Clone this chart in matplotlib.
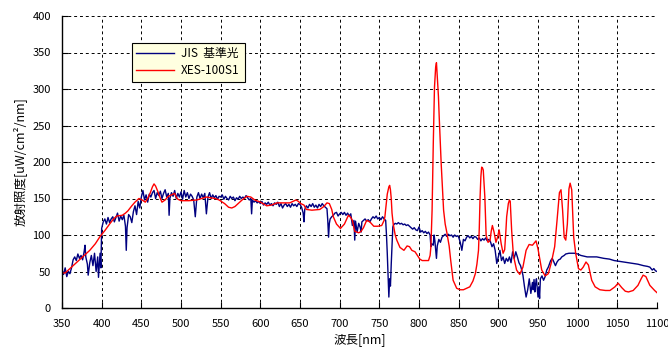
import matplotlib
matplotlib.use("Agg")
import matplotlib.pyplot as plt

# JIS reference spectrum (wavelength nm, irradiance)
jis_wl = [350, 352, 354, 356, 358, 360, 362, 364, 366, 368, 370, 372, 374, 376, 378, 379, 380, 382, 383, 385,
          387, 389, 391, 393, 395, 396, 398, 399, 400, 402, 404, 406, 408, 410, 412, 414, 416, 418, 420, 422,
          424, 426, 428, 430, 431, 432, 434, 436, 438, 440, 442, 444, 446, 448, 450, 452, 454, 456, 458, 460,
          462, 464, 466, 468, 470, 472, 474, 476, 478, 480, 482, 484, 485, 486, 488, 490, 492, 494, 496, 498,
          500, 502, 504, 506, 508, 510, 512, 514, 516, 518, 520, 522, 524, 526, 528, 530, 532, 534, 536, 538,
          540, 542, 544, 546, 548, 550, 552, 554, 556, 558, 560, 562, 564, 566, 568, 570, 572, 574, 576, 578,
          580, 582, 584, 586, 588, 589, 590, 592, 594, 596, 598, 600, 602, 604, 606, 608, 610, 612, 614, 616,
          618, 620, 622, 624, 626, 628, 630, 632, 634, 636, 638, 640, 642, 644, 646, 648, 650, 652, 654, 655,
          656, 658, 660, 662, 664, 666, 668, 670, 672, 674, 676, 678, 680, 682, 684, 685, 686, 687, 688, 690,
          692, 694, 696, 698, 700, 702, 704, 706, 708, 710, 712, 714, 716, 718, 719, 720, 722, 724, 726, 727,
          728, 730, 732, 734, 736, 738, 740, 742, 744, 746, 748, 750, 752, 754, 756, 758, 759, 760, 761, 762,
          763, 764, 765, 766, 767, 768, 770, 772, 774, 776, 778, 780, 782, 784, 786, 788, 790, 792, 794, 796,
          798, 800, 802, 804, 806, 808, 810, 812, 814, 815, 816, 818, 819, 820, 822, 823, 825, 827, 829, 831,
          833, 835, 837, 839, 841, 843, 845, 847, 849, 850, 852, 854, 856, 858, 860, 862, 864, 866, 868, 870,
          872, 874, 876, 878, 880, 882, 884, 886, 888, 890, 892, 894, 896, 898, 900, 902, 904, 906, 908, 910,
          912, 914, 916, 918, 920, 922, 924, 926, 928, 929, 931, 933, 935, 937, 939, 941, 943, 944, 945, 946,
          947, 948, 950, 951, 952, 953, 955, 957, 959, 961, 963, 965, 966, 968, 970, 972, 974, 976, 978, 980,
          983, 985, 989, 996, 1000, 1004, 1012, 1024, 1033, 1040, 1046, 1052, 1058, 1064, 1070, 1076, 1083, 1088, 1091, 1094,
          1096, 1098, 1100]
jis_val = [52, 46, 55, 43, 50, 47, 55, 66, 70, 65, 74, 68, 72, 66, 78, 86, 70, 60, 45, 62,
           72, 58, 75, 50, 70, 42, 75, 55, 109, 118, 122, 115, 124, 117, 122, 125, 118, 124, 130, 119,
           126, 121, 127, 112, 79, 110, 128, 125, 117, 132, 140, 128, 146, 137, 152, 161, 148, 155, 145, 156,
           152, 158, 161, 150, 158, 154, 160, 150, 157, 162, 152, 157, 127, 150, 158, 153, 161, 150, 157, 152,
           159, 149, 161, 152, 158, 150, 156, 153, 148, 125, 152, 158, 150, 156, 151, 157, 129, 152, 158, 150,
           155, 151, 154, 149, 153, 152, 155, 149, 153, 150, 148, 153, 150, 152, 147, 151, 149, 153, 150, 152,
           150, 154, 151, 148, 150, 129, 148, 145, 147, 144, 146, 143, 146, 141, 144, 142, 145, 141, 143, 140,
           144, 142, 145, 139, 143, 137, 141, 143, 139, 142, 138, 143, 140, 142, 139, 143, 142, 138, 130, 118,
           135, 140, 137, 142, 139, 143, 138, 141, 137, 142, 139, 143, 140, 138, 136, 120, 97, 116, 122, 125,
           127, 130, 131, 126, 129, 131, 128, 131, 127, 130, 126, 129, 113, 120, 93, 119, 104, 116, 110, 104,
           118, 120, 122, 119, 121, 118, 122, 125, 123, 126, 122, 124, 121, 125, 122, 120, 100, 75, 45, 15,
           40, 30, 60, 85, 111, 114, 116, 115, 117, 115, 116, 114, 115, 113, 114, 112, 110, 108, 110, 107,
           106, 111, 104, 106, 103, 105, 102, 104, 100, 84, 88, 86, 100, 92, 68, 85, 94, 90, 97, 99,
           101, 98, 101, 99, 100, 97, 100, 98, 99, 97, 90, 79, 94, 92, 97, 99, 96, 98, 95, 98,
           97, 94, 96, 92, 95, 93, 96, 92, 94, 91, 84, 88, 79, 61, 70, 79, 65, 70, 61, 68,
           64, 70, 62, 77, 68, 77, 70, 62, 58, 54, 45, 29, 15, 25, 40, 20, 35, 25, 39, 22,
           33, 40, 15, 29, 13, 40, 44, 38, 43, 52, 56, 62, 65, 68, 63, 58, 63, 66, 67, 70,
           72, 74, 75, 75, 74, 72, 70, 70, 68, 67, 65, 64, 63, 62, 61, 60, 58, 57, 56, 52,
           54, 51, 50]

# XES-100S1 simulator spectrum
xes_wl = [350, 354, 358, 364, 370, 378, 385, 392, 398, 404, 410, 415, 419, 426, 430, 433, 438, 442, 447, 451,
          455, 458, 461, 464, 466, 468, 471, 474, 476, 480, 484, 488, 492, 494, 496, 500, 510, 520, 532, 543,
          548, 555, 560, 564, 568, 572, 577, 583, 588, 593, 600, 605, 608, 614, 621, 630, 637, 641, 645, 648,
          651, 655, 658, 665, 675, 680, 684, 687, 690, 692, 696, 701, 706, 711, 714, 716, 719, 724, 727, 730,
          734, 738, 743, 748, 753, 756, 757, 759, 760, 762, 763, 764, 765, 766, 767.5, 770, 772, 776, 781, 785,
          788, 791, 795, 798, 801, 804, 812, 814, 815, 816.5, 818, 819.5, 821, 822, 823, 824.5, 825.5, 828, 831, 833,
          835, 838, 840, 843, 847.5, 852, 856, 860, 864, 868, 871, 873, 875, 876, 877, 878, 879, 880, 881, 882,
          883, 884.6, 887, 889.5, 891, 892.5, 894.6, 897, 899, 901, 902, 903.6, 906, 908, 909.5, 910.5, 912.6, 914, 915, 916.8,
          919, 923, 927, 931, 935, 938.8, 943, 947.5, 950, 954.7, 959, 963, 967, 971, 974, 977, 979, 981, 983, 985,
          987, 989, 990.5, 992.5, 995, 997.5, 1001, 1004, 1007, 1010.5, 1013.5, 1017.7, 1022, 1028, 1035, 1040.7, 1047, 1051, 1055.5, 1060,
          1064, 1070, 1076, 1080, 1082.5, 1086, 1091, 1097, 1100]
xes_val = [48, 48, 52, 58, 64, 72, 79, 88, 98, 106, 115, 122, 126, 127, 130, 133, 140, 145, 150, 148,
           145, 150, 157, 166, 170, 167, 159, 150, 145, 148, 153, 155, 157, 152, 149, 147, 147, 148, 152, 150,
           148, 143, 138, 137, 139, 143, 148, 153, 152, 148, 145, 142, 140, 141, 144, 144, 144, 146, 148, 146,
           143, 141, 135, 134, 135, 139, 144, 143, 135, 125, 115, 109, 115, 127, 124, 120, 105, 103, 105, 110,
           120, 118, 112, 112, 113, 120, 125, 145, 156, 166, 168, 162, 150, 130, 115, 100, 93, 83, 79, 85,
           84, 79, 77, 72, 67, 65, 65, 72, 84, 134, 225, 302, 330, 336, 318, 290, 261, 197, 134, 115,
           104, 85, 65, 38, 27, 25, 25, 27, 29, 37, 47, 60, 79, 110, 152, 180, 193, 192, 189, 170,
           152, 100, 90, 92, 105, 113, 104, 90, 97, 107, 100, 88, 75, 80, 105, 125, 143, 148, 146, 106,
           72, 52, 46, 56, 79, 87, 86, 92, 81, 52, 44, 47, 63, 84, 120, 158, 162, 134, 97, 93,
           115, 163, 171, 162, 97, 75, 54, 52, 56, 63, 59, 38, 29, 25, 24, 24, 29, 34, 28, 23,
           22, 24, 31, 40, 45, 43, 31, 24, 21]

x_ticks = list(range(350, 1101, 50))
y_ticks = list(range(0, 401, 50))

plt.rcParams['font.family'] = ['Noto Sans CJK JP', 'DejaVu Sans']

fig = plt.figure(figsize=(6.68, 3.63), dpi=100)
ax = fig.add_axes([62 / 668, 1 - 308 / 363, 595 / 668, 292 / 363])

ax.plot(jis_wl, jis_val, color='#000080', lw=1.0, label='JIS  基準光')
ax.plot(xes_wl, xes_val, color='#FF0000', lw=1.0, label='XES-100S1')

ax.set_xlim(350, 1100)
ax.set_ylim(0, 400)
ax.set_xticks(x_ticks)
ax.set_yticks(y_ticks)
ax.tick_params(direction='in', length=4, width=0.8, labelsize=8, colors='black')
ax.tick_params(axis='x', pad=8)
ax.tick_params(axis='y', pad=8)
ax.grid(True, color='black', linestyle=(0, (3, 3)), linewidth=0.7)
for s in ['top', 'right']:
    ax.spines[s].set_visible(False)
for s in ['left', 'bottom']:
    ax.spines[s].set_linewidth(1.0)

ax.set_xlabel('波長[nm]', fontsize=9, labelpad=3)
ax.set_ylabel('放射照度[uW/cm²/nm]', fontsize=9, labelpad=4)

leg = ax.legend(loc='upper left', bbox_to_anchor=(0.117, 0.909), borderaxespad=0,
                fancybox=False, edgecolor='black', facecolor='#FFFFE0', framealpha=1,
                fontsize=8.5, handlelength=3.2, handletextpad=0.6, borderpad=0.4, labelspacing=0.3)
leg.get_frame().set_linewidth(0.8)

fig.savefig('out.png', dpi=100)
